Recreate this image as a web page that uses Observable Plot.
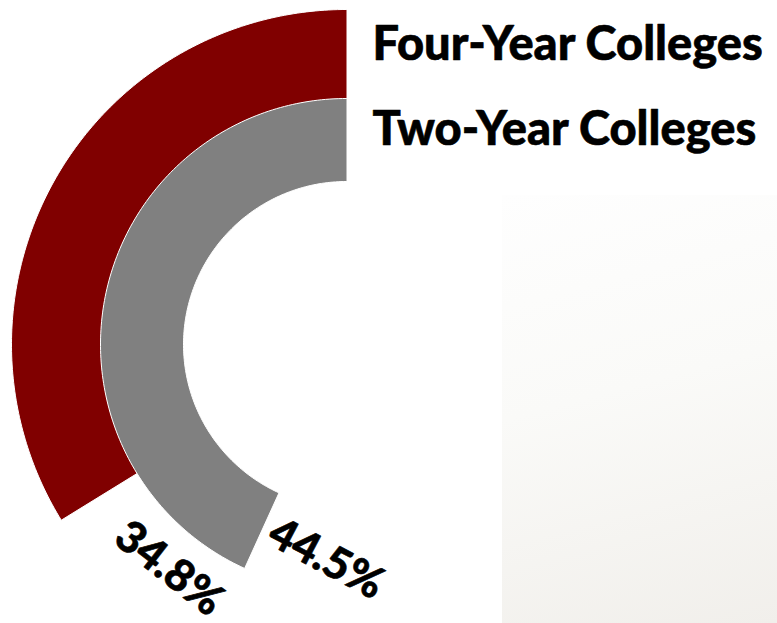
<!DOCTYPE html>
<html>
<head>
<meta charset="utf-8">
<script src="https://cdn.jsdelivr.net/npm/d3@7"></script>
<script src="https://cdn.jsdelivr.net/npm/@observablehq/plot@0.6"></script>
<style>
  html, body { margin: 0; padding: 0; background: #fff; }
  #wrap { position: relative; width: 777px; height: 623px; overflow: hidden; }
  #bg { position: absolute; left: 502px; top: 195px; width: 275px; height: 428px;
        background: linear-gradient(165deg, #fefefe 0%, #fafaf8 45%, #f1efeb 100%); }
  #chart { position: absolute; left: 0; top: 0; }
</style>
</head>
<body>
<div id="wrap"><div id="bg"></div><div id="chart"></div></div>
<script>
// ---- data ----
const categories = ["Four-Year Colleges", "Two-Year Colleges"];
const values = [34.8, 44.5];
const labels = ["34.8%", "44.5%"];

// ---- styling / layout constants ----
const colors = ["#800000", "#808080"];
const rings = [[245, 335], [163, 246]];   // inner / outer radius in px
const labelRotate = [38, 28];
const labelShiftDeg = [20, 19];
const labelRadiusOffset = [-4, 11];
const W = 777, H = 623, CX = 346, CY = 344;

// value -> angle (radians), measured counter-clockwise from 12 o'clock
const angle = d3.scaleLinear().domain([0, 103]).range([0, 2 * Math.PI]);

// build ring polygons from the values
const arcPts = [];
categories.forEach((c, i) => {
  const a = angle(values[i]);
  const [r0, r1] = rings[i];
  const n = 160;
  for (let k = 0; k <= n; k++) {
    const t = a * k / n;
    arcPts.push({series: c, x: -r1 * Math.sin(t), y: r1 * Math.cos(t)});
  }
  for (let k = n; k >= 0; k--) {
    const t = a * k / n;
    arcPts.push({series: c, x: -r0 * Math.sin(t), y: r0 * Math.cos(t)});
  }
});

const labelRows = categories.map((c, i) => {
  const t = angle(values[i]) + labelShiftDeg[i] * Math.PI / 180;
  const r = (rings[i][0] + rings[i][1]) / 2 + labelRadiusOffset[i];
  return {series: c, label: labels[i], x: -r * Math.sin(t), y: r * Math.cos(t), rotate: labelRotate[i]};
});

const legendRows = categories.map((c, i) => ({
  series: c, x: 0, y: (rings[i][0] + rings[i][1]) / 2 + 10
}));

const textStyle = {
  fontWeight: 900, fontFamily: "Lato, 'Open Sans', sans-serif", fill: "#000",
  stroke: "#000", strokeWidth: 0.6
};

const plot = Plot.plot({
  width: W, height: H,
  margin: 0,
  style: {background: "transparent", overflow: "visible"},
  x: {domain: [-CX, W - CX], axis: null},
  y: {domain: [-(H - CY), CY], axis: null},
  marks: [
    ...categories.map((c, i) =>
      Plot.line(arcPts.filter(d => d.series === c), {
        x: "x", y: "y", fill: colors[i], stroke: "white", strokeWidth: 1
      })),
    Plot.text(labelRows, {
      x: "x", y: "y", text: "label", rotate: "rotate",
      fontSize: 44, ...textStyle
    }),
    Plot.text(legendRows, {
      x: "x", y: "y", text: "series", dx: 26, textAnchor: "start",
      fontSize: 47, ...textStyle
    })
  ]
});
document.getElementById("chart").appendChild(plot);
</script>
</body>
</html>
